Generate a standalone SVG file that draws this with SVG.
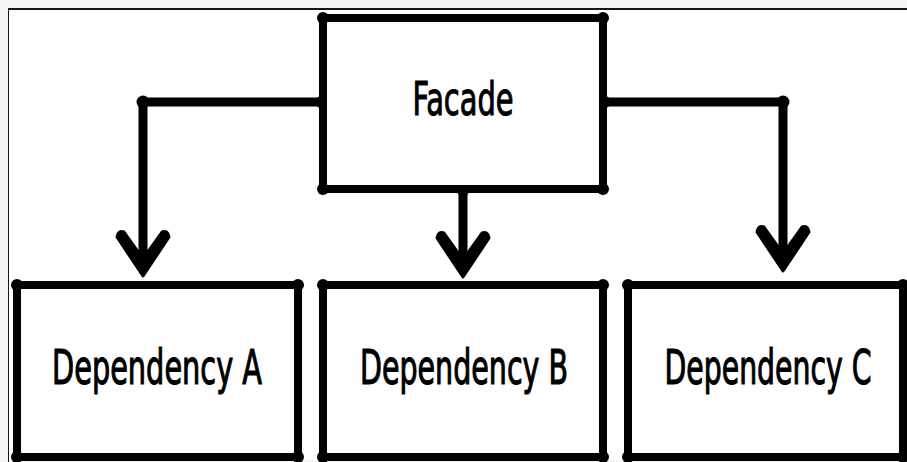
<svg xmlns="http://www.w3.org/2000/svg" xmlns:xlink="http://www.w3.org/1999/xlink" width="907" height="462" viewBox="0 0 907 462">
  <style>
    .frame { fill: #f4f4f4; }
    .edge { stroke: #161616; }
    .box { fill: #ffffff; stroke: #000000; stroke-width: 8; stroke-linejoin: round; }
    .dot { fill: #000000; }
    .wire { fill: none; stroke: #000000; stroke-width: 9; stroke-linecap: round; stroke-linejoin: round; }
    .head { fill: #000000; stroke: #000000; stroke-width: 3; stroke-linejoin: round; }
    .label { font-family: "DejaVu Sans Condensed", "Liberation Sans Narrow", "Liberation Sans", sans-serif; font-size: 34px; fill: #000000; stroke: #000000; stroke-width: 0.8; text-anchor: middle; }
  </style>
  <defs>
    <!-- arrowhead pointing down, tip at the origin -->
    <path id="head" class="head" d="M0,0 L-26,-39 Q-25,-46 -19,-44 L-4,-23 L4,-23 L19,-44 Q25,-46 26,-39 Z"/>
  </defs>

  <!-- page frame -->
  <rect class="frame" x="0" y="0" width="907" height="462"/>
  <rect x="9" y="10" width="898" height="450" fill="#ffffff"/>
  <line class="edge" x1="8" y1="9" x2="907" y2="9" stroke-width="2"/>
  <line class="edge" x1="8.5" y1="9" x2="8.5" y2="462" stroke-width="1"/>

  <!-- connectors -->
  <g id="connectors">
    <path class="wire" d="M322,102 L143,102 L143,252"/>
    <path class="wire" d="M463,190 L463,255"/>
    <path class="wire" d="M604,102 L783,102 L783,248"/>
    <circle class="dot" cx="143" cy="102" r="6.5"/>
    <circle class="dot" cx="783" cy="102" r="6.5"/>
    <circle class="dot" cx="322" cy="102" r="6.5"/>
    <circle class="dot" cx="604" cy="102" r="6.5"/>
    <circle class="dot" cx="463" cy="190" r="6.5"/>
    <use xlink:href="#head" x="143" y="276"/>
    <use xlink:href="#head" x="463" y="277"/>
    <use xlink:href="#head" x="783" y="271"/>
  </g>

  <g id="facade">
    <rect class="box" x="323" y="18" width="280" height="171"/>
    <circle class="dot" cx="323" cy="18" r="6"/>
    <circle class="dot" cx="603" cy="18" r="6"/>
    <circle class="dot" cx="323" cy="189" r="6"/>
    <circle class="dot" cx="603" cy="189" r="6"/>
    <text class="label" transform="translate(463,115) scale(1,1.35)" font-size="33" textLength="101" lengthAdjust="spacingAndGlyphs">Facade</text>
  </g>

  <g id="dependency-a">
    <rect class="box" x="17" y="285" width="281" height="172"/>
    <circle class="dot" cx="17" cy="285" r="6"/>
    <circle class="dot" cx="298" cy="285" r="6"/>
    <circle class="dot" cx="17" cy="457" r="6"/>
    <circle class="dot" cx="298" cy="457" r="6"/>
    <text class="label" transform="translate(157,384) scale(1,1.4)" textLength="210" lengthAdjust="spacingAndGlyphs">Dependency A</text>
  </g>

  <g id="dependency-b">
    <rect class="box" x="323" y="285" width="280" height="172"/>
    <circle class="dot" cx="323" cy="285" r="6"/>
    <circle class="dot" cx="603" cy="285" r="6"/>
    <circle class="dot" cx="323" cy="457" r="6"/>
    <circle class="dot" cx="603" cy="457" r="6"/>
    <text class="label" transform="translate(464,384) scale(1,1.4)" textLength="208" lengthAdjust="spacingAndGlyphs">Dependency B</text>
  </g>

  <g id="dependency-c">
    <rect class="box" x="628" y="285" width="275" height="172"/>
    <circle class="dot" cx="628" cy="285" r="6"/>
    <circle class="dot" cx="903" cy="285" r="6"/>
    <circle class="dot" cx="628" cy="457" r="6"/>
    <circle class="dot" cx="903" cy="457" r="6"/>
    <text class="label" transform="translate(768,384) scale(1,1.4)" textLength="207" lengthAdjust="spacingAndGlyphs">Dependency C</text>
  </g>
</svg>
